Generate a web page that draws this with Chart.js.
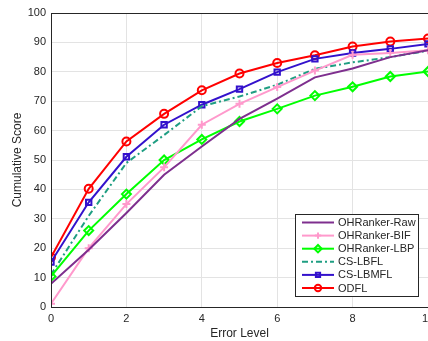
<!DOCTYPE html>
<html>
<head>
<meta charset="utf-8">
<script src="https://cdn.jsdelivr.net/npm/chart.js@4"></script>
<style>
  html, body { margin: 0; padding: 0; background: #fff; overflow: hidden; }
  #wrap { width: 445px; height: 341px; }
</style>
</head>
<body>
<div id="wrap"><canvas id="chart"></canvas></div>
<script>
'use strict';

const errorLevels = [0, 1, 2, 3, 4, 5, 6, 7, 8, 9, 10];
const yTicks = [0, 10, 20, 30, 40, 50, 60, 70, 80, 90, 100];

const rawScores = [7.9, 19.5, 32, 45, 54.6, 64, 70.9, 78.1, 81.1, 85, 87.3];
const bifScores = [1.1, 20, 35, 47.5, 62, 69.1, 74.8, 80.4, 85.8, 86.4, 87.3];
const lbpScores = [10.4, 26, 38.4, 50, 57, 63.1, 67.4, 71.9, 74.9, 78.4, 80.1];
const lbflScores = [11, 31, 49, 58.5, 68.3, 71.6, 75.6, 81, 83.2, 85, 87.2];
const lbmflScores = [15.3, 35.6, 51.1, 62, 68.8, 74.1, 79.9, 84.4, 86.4, 87.8, 89.5];
const odflScores = [16.9, 40.2, 56.3, 65.7, 73.7, 79.4, 83, 85.6, 88.6, 90.3, 91.3];

const seriesNames = ['OHRanker-Raw', 'OHRanker-BIF', 'OHRanker-LBP', 'CS-LBFL', 'CS-LBMFL', 'ODFL'];

const axisColor = '#262626';
const fontFamily = '"Liberation Sans", Arial, Helvetica, sans-serif';

function makeSet(label, values, color, style, radius, dash) {
    return {
        label: label,
        data: values.map((v, i) => ({ x: errorLevels[i], y: v })),
        borderColor: color,
        backgroundColor: color,
        borderWidth: 2,
        borderDash: dash || [],
        pointStyle: style,
        pointRadius: style ? radius : 0,
        pointBorderColor: color,
        pointBackgroundColor: 'rgba(255,255,255,0)',
        pointBorderWidth: 2,
        tension: 0,
        fill: false
    };
}

const datasets = [
    makeSet(seriesNames[0], rawScores, '#7e2f8e', false, 0),
    makeSet(seriesNames[1], bifScores, '#ff99cc', 'cross', 4),
    makeSet(seriesNames[2], lbpScores, '#00ff00', 'rectRot', 4.5),
    makeSet(seriesNames[3], lbflScores, '#1f9e82', false, 0, [6, 3, 2, 3]),
    makeSet(seriesNames[4], lbmflScores, '#3311cc', 'rect', 3.8),
    makeSet(seriesNames[5], odflScores, '#ff0000', 'circle', 4)
];

// box around the plot, like matlab "box on"
const boxPlugin = {
    id: 'boxPlugin',
    afterDatasetsDraw(chart) {
        const a = chart.chartArea;
        const ctx = chart.ctx;
        ctx.save();
        ctx.strokeStyle = axisColor;
        ctx.lineWidth = 1;
        ctx.strokeRect(Math.round(a.left) + 0.5, Math.round(a.top) + 0.5,
            Math.round(a.right - a.left), Math.round(a.bottom - a.top));
        ctx.restore();
    }
};

// legend box in the lower right corner of the plot
const legendBoxPlugin = {
    id: 'legendBox',
    afterDraw(chart) {
        const ctx = chart.ctx;
        const left = 295, top = 214, w = 123, h = 82;
        ctx.save();
        ctx.fillStyle = '#fff';
        ctx.fillRect(left, top, w, h);
        ctx.strokeStyle = axisColor;
        ctx.lineWidth = 1;
        ctx.strokeRect(left + 0.5, top + 0.5, w, h);
        ctx.font = '11px ' + fontFamily;
        ctx.textBaseline = 'middle';
        chart.data.datasets.forEach((ds, i) => {
            const y = 222.5 + i * 13.1;
            ctx.strokeStyle = ds.borderColor;
            ctx.lineWidth = 2;
            ctx.setLineDash(ds.borderDash);
            ctx.beginPath();
            ctx.moveTo(302, y);
            ctx.lineTo(334, y);
            ctx.stroke();
            ctx.setLineDash([]);
            if (ds.pointStyle) {
                ctx.fillStyle = 'rgba(255,255,255,0)';
                Chart.helpers.drawPoint(ctx, {
                    pointStyle: ds.pointStyle,
                    radius: ds.pointRadius - 0.8,
                    borderWidth: 2
                }, 318, y);
            }
            ctx.fillStyle = axisColor;
            ctx.fillText(ds.label, 338, y + 0.5);
        });
        ctx.restore();
    }
};

const chartEl = document.getElementById('chart');

new Chart(chartEl, {
    type: 'line',
    data: { datasets: datasets },
    options: {
        responsive: true,
        maintainAspectRatio: false,
        animation: false,
        events: [],
        layout: { padding: { left: 0, top: 13, right: 17, bottom: 0 } },
        plugins: {
            legend: { display: false },
            tooltip: { enabled: false }
        },
        scales: {
            x: {
                type: 'linear',
                min: 0,
                max: 10,
                afterFit(scale) { scale.height = 34; },
                afterBuildTicks(scale) {
                    scale.ticks = [0, 2, 4, 6, 8, 10].map(v => ({ value: v }));
                },
                grid: { color: '#e3e3e3', drawTicks: false },
                border: { color: axisColor },
                ticks: {
                    color: axisColor,
                    padding: 5,
                    maxRotation: 0,
                    font: { family: fontFamily, size: 11 }
                },
                title: {
                    display: true,
                    text: 'Error Level',
                    color: axisColor,
                    padding: { top: 1, bottom: 0 },
                    font: { family: fontFamily, size: 12 }
                }
            },
            y: {
                min: 0,
                max: 100,
                afterFit(scale) { scale.width = 51; },
                afterBuildTicks(scale) {
                    scale.ticks = yTicks.map(v => ({ value: v }));
                },
                grid: { color: '#e3e3e3', drawTicks: false },
                border: { color: axisColor },
                ticks: {
                    color: axisColor,
                    padding: 5,
                    font: { family: fontFamily, size: 11 }
                },
                title: {
                    display: true,
                    text: 'Cumulative Score',
                    color: axisColor,
                    padding: { top: 10, bottom: 4 },
                    font: { family: fontFamily, size: 12 }
                }
            }
        }
    },
    plugins: [boxPlugin, legendBoxPlugin]
});
</script>
</body>
</html>
